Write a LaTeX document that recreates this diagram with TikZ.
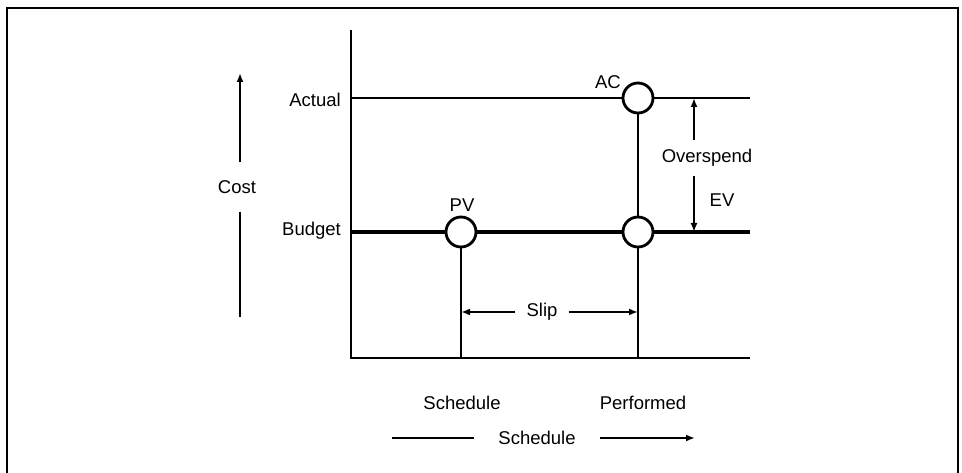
\documentclass[tikz,border=0pt]{standalone}
\usepackage{fontspec}
\setmainfont{Liberation Sans}
\usetikzlibrary{arrows.meta, calc}

\begin{document}
\begin{tikzpicture}[
    x=1pt, y=-1pt,
    >={Latex[length=9pt,width=7pt]},
    lbl/.style={font=\fontsize{18.5}{20}\selectfont, inner sep=2pt},
    dot/.style={draw, circle, minimum size=30pt, inner sep=0pt, line width=2.8pt, fill=white},
    axis/.style={line width=2.4pt},
    actline/.style={line width=1.8pt},
    budline/.style={line width=3.2pt},
    arrow/.style={->, line width=2.4pt},
]
\useasboundingbox (0,0) rectangle (962,473);

% frame
\draw[line width=2pt] (7,473) -- (7,8) -- (958,8) -- (958,473);

% axes
\coordinate (top) at (351,30);
\coordinate (origin) at (351,358);
\coordinate (xend) at (750,358);
\draw[axis] (top) -- (origin) -- (xend);

% markers
\node[dot] (pv) at (461,232) {};
\node[dot] (ac) at (638,98) {};
\node[dot] (ev) at (638,232) {};

\node[lbl] (pvl) at (462,205) {PV};
\node[lbl] (acl) at (608,82) {AC};

% actual and budget lines
\coordinate (act0) at (351,98);
\coordinate (act1) at (750,98);
\coordinate (bud0) at (351,232);
\coordinate (bud1) at (750,232);
\draw[actline] (act0) -- (ac.west);
\draw[actline] (ac.east) -- (act1);
\draw[budline] (bud0) -- (pv.west);
\draw[budline] (pv.east) -- (ev.west);
\draw[budline] (ev.east) -- (bud1);

\node[lbl, anchor=east] (actual) at (343,100) {Actual};
\node[lbl, anchor=east] (budget) at (343,231) {Budget};

% verticals
\draw[axis] (ac.south) -- (ev.north);
\draw[axis] (pv.south) -- (pv.south |- origin);
\draw[axis] (ev.south) -- (ev.south |- origin);

% cost
\node[lbl, inner ysep=18pt] (cost) at (237,187) {Cost};
\coordinate (costtop) at (240,73);
\coordinate (costbot) at (240,317);
\draw[arrow] (cost.north -| costtop) -- (costtop);
\draw[axis] (cost.south -| costbot) -- (costbot);

% overspend
\coordinate (ostop) at (694,98);
\coordinate (osbot) at (694,232);
\node[lbl, inner ysep=9pt] (over) at (707,158) {Overspend};
\node[lbl] (evl) at (722,200) {EV};
\draw[arrow] (over.north -| ostop) -- (ostop);
\draw[arrow] (over.south -| osbot) -- (osbot);

% slip
\node[lbl, inner xsep=11pt] (slip) at (542,312) {Slip};
\draw[arrow] (slip.west) -- (slip.west -| pv);
\draw[arrow] (slip.east) -- (slip.east -| ev);

% schedule legend
\node[lbl] (sched) at (462,403) {Schedule};
\node[lbl] (perf) at (643,403) {Performed};
\node[lbl, inner xsep=24pt] (sch) at (537,438) {Schedule};
\coordinate (schl) at (392,438);
\coordinate (schr) at (695,438);
\draw[actline] (sch.west) -- (schl);
\draw[arrow] (sch.east) -- (schr);

\end{tikzpicture}
\end{document}
